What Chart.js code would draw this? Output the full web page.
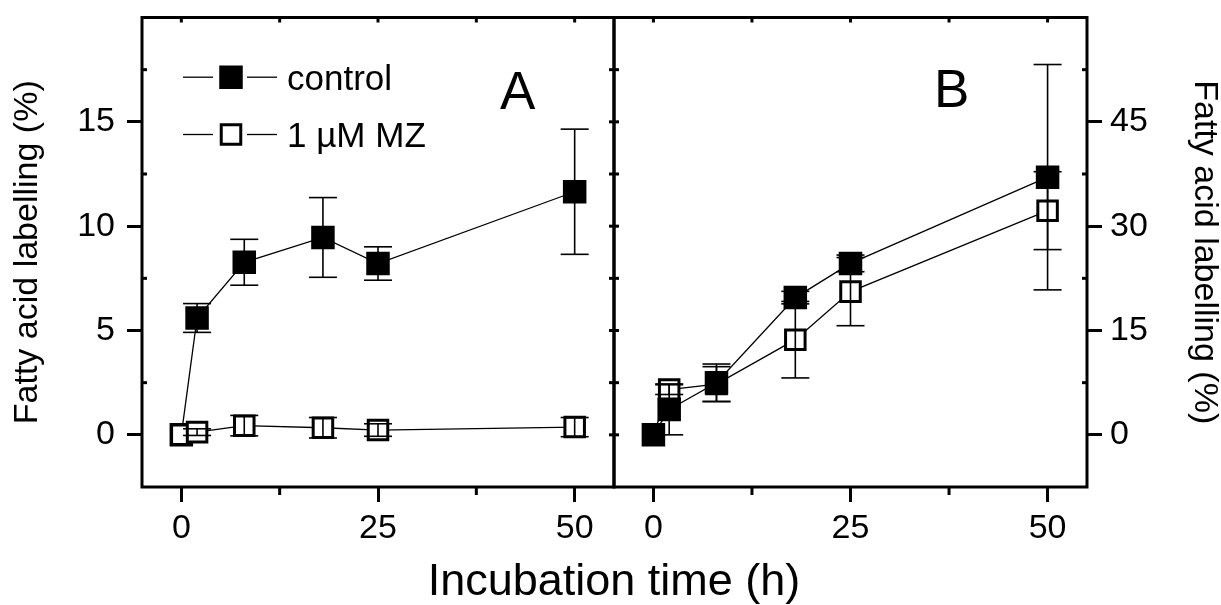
<!DOCTYPE html>
<html><head><meta charset="utf-8">
<script src="https://cdn.jsdelivr.net/npm/chart.js@4.4.1/dist/chart.umd.min.js"></script>
<style>
html,body{margin:0;padding:0;background:#fff;}
#wrap{position:relative;width:1221px;height:605px;overflow:hidden;}
canvas{position:absolute;left:0;top:0;}
</style></head><body>
<div id="wrap"><canvas id="cA" width="1221" height="605" style="width:1221px;height:605px"></canvas><canvas id="cB" width="1221" height="605" style="width:1221px;height:605px"></canvas></div>
<script>
// ---- data ----
const times = [0, 2, 8, 18, 25, 50];
const seriesNames = ['control', '1 \u00B5M MZ'];
// Panel A
const controlA    = [0, 5.6, 8.27, 9.46, 8.21, 11.65];
const controlAErr = [0, 0.69, 1.1, 1.91, 0.8, 3.0];
const mzA         = [0, 0.13, 0.44, 0.34, 0.23, 0.37];
const mzAErr      = [0, 0.16, 0.49, 0.49, 0.3, 0.46];
// Panel B
const controlB    = [0, 3.66, 7.48, 19.73, 24.65, 37.04];
const controlBErr = [0, 3.66, 2.7, 0.9, 1.2, 16.2];
const mzB         = [0, 6.5, 7.3, 13.68, 20.59, 32.23];
const mzBErr      = [0, 0.7, 2.5, 5.5, 4.9, 5.6];
// ticks
const xTicks  = [0, 25, 50];
const xMinor  = [12.5, 37.5];
const yTicksA = [0, 5, 10, 15];
const yMinorA = [2.5, 7.5, 12.5, 17.5];
const yTicksB = [0, 15, 30, 45];
const yMinorB = [7.5, 22.5, 37.5, 52.5];
const panelLetters = ['A', 'B'];
const xTitle = 'Incubation time (h)';
const yTitle = 'Fatty acid labelling (%)';

const FAM = "'Liberation Sans', Arial, sans-serif";

function pts(ys) { return times.map((t, i) => ({x: t, y: ys[i]})); }

function ds(name, ys, errs, filled, order) {
  return {
    label: name, data: pts(ys), errors: errs, order: order,
    borderColor: '#000', borderWidth: 1.3, backgroundColor: filled ? '#000' : '#fff',
    pointStyle: 'rect', pointRadius: filled ? 14.5 : 13.8, pointBorderWidth: 3,
    pointBackgroundColor: filled ? '#000' : '#fff', pointBorderColor: '#000',
    pointHoverRadius: filled ? 14.5 : 13.8, fill: false, tension: 0, clip: false
  };
}

function seg(ctx, x1, y1, x2, y2) { ctx.beginPath(); ctx.moveTo(x1, y1); ctx.lineTo(x2, y2); ctx.stroke(); }

function square(ctx, x, y, r, filled) {
  ctx.save();
  ctx.fillStyle = filled ? '#000' : '#fff';
  ctx.strokeStyle = '#000';
  ctx.lineWidth = 3;
  const s = r * Math.SQRT1_2;
  ctx.beginPath(); ctx.rect(x - s, y - s, 2 * s, 2 * s); ctx.fill(); ctx.stroke();
  ctx.restore();
}

const decor = {
  id: 'decor',
  afterDatasetDraw(chart, args) {
    const d = chart.data.datasets[args.index];
    if (!d.errors) return;
    const ctx = chart.ctx, xs = chart.scales.x, ys = chart.scales.y;
    ctx.save();
    ctx.strokeStyle = '#000'; ctx.lineWidth = 1.6;
    d.data.forEach((p, i) => {
      const e = d.errors[i];
      if (!e) return;
      const px = xs.getPixelForValue(p.x);
      const t = ys.getPixelForValue(p.y + e), b = ys.getPixelForValue(p.y - e);
      seg(ctx, px, t, px, b);
      seg(ctx, px - 14, t, px + 14, t);
      seg(ctx, px - 14, b, px + 14, b);
    });
    ctx.restore();
  },
  afterDraw(chart, args, o) {
    const ctx = chart.ctx, ca = chart.chartArea, xs = chart.scales.x, ys = chart.scales.y;
    ctx.save();
    ctx.strokeStyle = '#000'; ctx.lineWidth = 3;
    ctx.strokeRect(ca.left, ca.top, ca.right - ca.left, ca.bottom - ca.top);
    // x minor ticks (outward) and top mirror ticks (inward)
    xMinor.forEach(v => { const x = xs.getPixelForValue(v); seg(ctx, x, ca.bottom, x, ca.bottom + 8); });
    xTicks.concat(xMinor).forEach(v => { const x = xs.getPixelForValue(v); seg(ctx, x, ca.top, x, ca.top + 5); });
    // y minor ticks (inward on axis side) and mirror ticks on opposite side
    const yt = o.yTicks, ym = o.yMinor;
    const axisX = o.side === 'left' ? ca.left : ca.right;
    const dir = o.side === 'left' ? 1 : -1;
    ym.forEach(v => { const y = ys.getPixelForValue(v); seg(ctx, axisX, y, axisX + dir * 5, y); });
    const mirX = o.side === 'left' ? ca.right : ca.left;
    yt.concat(ym).forEach(v => { const y = ys.getPixelForValue(v); seg(ctx, mirX, y, mirX - dir * 5, y); });
    // panel letter
    ctx.fillStyle = '#000';
    ctx.font = '53px ' + FAM;
    ctx.textBaseline = 'alphabetic'; ctx.textAlign = 'left';
    ctx.fillText(o.letter, ca.left + o.letterDX, ca.top + o.letterDY);
    // legend
    if (o.legend) {
      ctx.lineWidth = 1.3;
      ctx.font = '35px ' + FAM;
      chart.data.datasets.slice().sort((a, b) => seriesNames.indexOf(a.label) - seriesNames.indexOf(b.label)).forEach((d, i) => {
        const y = ca.top + 59.7 + i * 57.3;
        seg(ctx, ca.left + 41, y, ca.left + 71, y);
        seg(ctx, ca.left + 105, y, ca.left + 135, y);
        square(ctx, ca.left + 89, y, d.pointRadius, d.pointBackgroundColor === '#000');
        ctx.fillStyle = '#000';
        ctx.fillText(d.label, ca.left + 145, y + 12.6);
      });
    }
    // shared x title
    if (o.xTitle) {
      ctx.font = '45px ' + FAM;
      ctx.textAlign = 'center'; ctx.textBaseline = 'alphabetic';
      ctx.fillStyle = '#000';
      ctx.fillText(xTitle, 614, 595);
    }
    ctx.restore();
  }
};

function makeChart(id, datasets, cfg) {
  return new Chart(document.getElementById(id), {
    type: 'line',
    data: { datasets },
    options: {
      responsive: false, animation: false, devicePixelRatio: 1,
      layout: { padding: cfg.padding },
      events: [],
      scales: {
        x: {
          type: 'linear', min: -5, max: 55, position: 'bottom',
          afterBuildTicks: s => { s.ticks = xTicks.map(v => ({value: v})); },
          afterFit: s => { s.height = 118; s.paddingLeft = 0; s.paddingRight = 0; },
          ticks: { color: '#000', font: {family: FAM, size: 34}, padding: 6, maxRotation: 0, autoSkip: false },
          grid: { drawOnChartArea: false, drawTicks: true, tickLength: 15, lineWidth: 3, color: '#000' },
          border: { display: false }
        },
        y: {
          type: 'linear', min: cfg.yMin, max: cfg.yMax, position: cfg.side,
          afterBuildTicks: s => { s.ticks = cfg.yTicks.map(v => ({value: v})); },
          afterFit: s => { s.width = cfg.yWidth; s.paddingTop = 0; s.paddingBottom = 0; },
          ticks: { color: '#000', font: {family: FAM, size: 34}, padding: cfg.tickPad, autoSkip: false },
          grid: { drawOnChartArea: false, drawTicks: true, tickLength: 15, lineWidth: 3, color: '#000' },
          border: { display: false },
          title: { display: true, text: yTitle, color: '#000', font: {family: FAM, size: 34, lineHeight: 1}, padding: {top: cfg.titlePad, bottom: 0} }
        }
      },
      plugins: {
        legend: { display: false }, tooltip: { enabled: false },
        decor: cfg.decor
      }
    },
    plugins: [decor]
  });
}

makeChart('cA', [
  ds(seriesNames[0], controlA, controlAErr, true, 1),
  ds(seriesNames[1], mzA, mzAErr, false, 0)
], {
  padding: {top: 15, left: 0, right: 1221 - 614, bottom: 0},
  yMin: -2.5, yMax: 20, yTicks: yTicksA, side: 'left', yWidth: 142, tickPad: 12, titlePad: 11,
  decor: { side: 'left', yTicks: yTicksA, yMinor: yMinorA, letter: panelLetters[0], letterDX: 358, letterDY: 91, legend: true, xTitle: true }
});

makeChart('cB', [
  ds(seriesNames[0], controlB, controlBErr, true, 0),
  ds(seriesNames[1], mzB, mzBErr, false, 1)
], {
  padding: {top: 15, left: 614, right: 0, bottom: 0},
  yMin: -7.5, yMax: 60, yTicks: yTicksB, side: 'right', yWidth: 1221 - 1087, tickPad: 8, titlePad: 0,
  decor: { side: 'right', yTicks: yTicksB, yMinor: yMinorB, letter: panelLetters[1], letterDX: 320, letterDY: 89, legend: false, xTitle: false }
});
</script>
</body></html>
